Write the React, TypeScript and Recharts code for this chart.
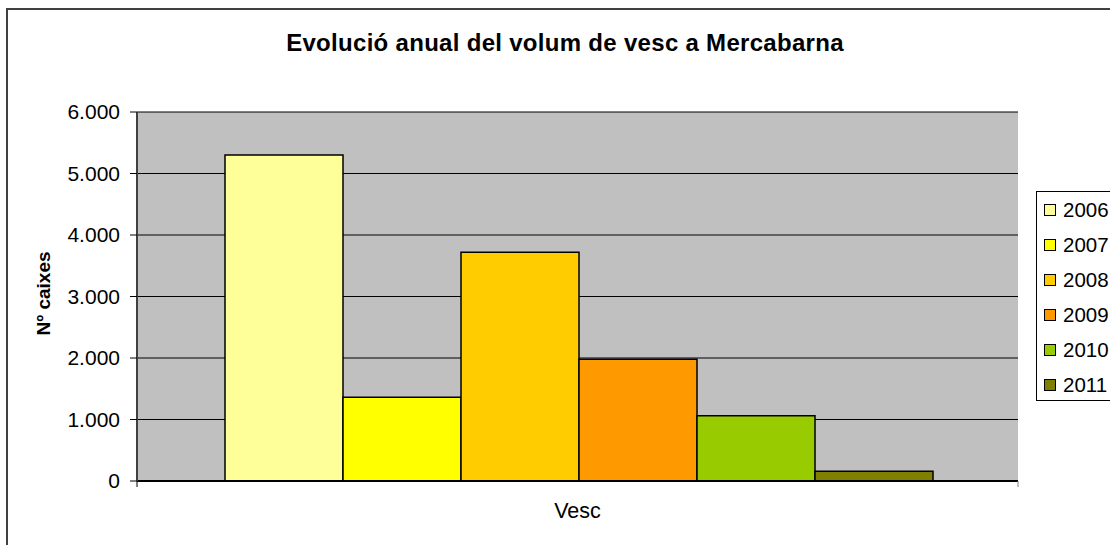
import React from 'react'
import { BarChart, Bar, XAxis, YAxis, CartesianGrid, Label } from 'recharts'

// ── Data ──────────────────────────────────────────────────────────────────────

const category = 'Vesc'
const years = ['2006', '2007', '2008', '2009', '2010', '2011']
const volumes = [5300, 1360, 3720, 1980, 1060, 160]
const yearColors = ['#FFFF99', '#FFFF00', '#FFCC00', '#FF9900', '#99CC00', '#808000']
const yTicks = [0, 1000, 2000, 3000, 4000, 5000, 6000]

const row: Record<string, string | number> = { name: category }
years.forEach((y, i) => { row[y] = volumes[i] })
const data = [row]

const FONT = '"Liberation Sans", Arial, sans-serif'

const fmt = (v: number) => String(v).replace(/\B(?=(\d{3})+(?!\d))/g, '.')

// ── Bits ──────────────────────────────────────────────────────────────────────

function CategoryTick(props: any) {
  const { x, y, width, payload } = props
  const half = width / 2
  return (
    <g>
      <line x1={x - half} y1={y} x2={x - half} y2={y + 6} stroke="#000" />
      <line x1={x + half} y1={y} x2={x + half} y2={y + 6} stroke="#808080" />
      <text x={x} y={y + 37} textAnchor="middle" fontSize={21.5} fontFamily={FONT} fill="#000">
        {payload.value}
      </text>
    </g>
  )
}

function YTitle(props: any) {
  const { viewBox } = props
  const cx = viewBox.x + 43
  const cy = viewBox.y + viewBox.height / 2 - 3
  return (
    <text x={cx} y={cy} transform={`rotate(-90 ${cx} ${cy})`} textAnchor="middle" dominantBaseline="central"
      fontSize={19} fontWeight={700} fontFamily={FONT} fill="#000">
      Nº caixes
    </text>
  )
}

export default function App() {
  return (
    <div style={{ position: 'absolute', left: 0, top: 0, width: 1110, height: 545, overflow: 'hidden', background: '#fff', fontFamily: FONT }}>
      <div style={{ position: 'absolute', left: 6, top: 8, width: 1200, height: 700, border: '2px solid #404040' }} />
      <div style={{ position: 'absolute', left: 165, top: 29, width: 800, textAlign: 'center', whiteSpace: 'nowrap', fontSize: 24, lineHeight: 'normal', letterSpacing: 0.3, fontWeight: 700, color: '#000' }}>
        Evolució anual del volum de vesc a Mercabarna
      </div>

      <div style={{ position: 'absolute', left: 0, top: 0 }}>
        <BarChart width={1110} height={545} data={data} margin={{ top: 112, right: 92, bottom: 0, left: 0 }}
          barCategoryGap={88} barGap={0}>
          <CartesianGrid vertical={false} fill="#C0C0C0" stroke="#000" strokeOpacity={1} />
          <XAxis dataKey="name" height={64} tickSize={0} tickMargin={0} tickLine={false}
            axisLine={{ stroke: '#000', strokeWidth: 2 }} tick={<CategoryTick />} />
          <YAxis domain={[0, 6000]} ticks={yTicks} width={137} tickSize={7} tickMargin={10}
            tickFormatter={fmt} tick={{ fontSize: 21, fill: '#000', fontFamily: FONT }}
            tickLine={{ stroke: '#000' }} axisLine={{ stroke: '#404040', strokeWidth: 2 }}>
            <Label content={<YTitle />} />
          </YAxis>
          <YAxis yAxisId="r" orientation="right" width={0} tick={false} tickLine={false}
            axisLine={{ stroke: '#808080', strokeWidth: 2 }} />
          {years.map((y, i) => (
            <Bar key={y} dataKey={y} fill={yearColors[i]} stroke="#000" strokeWidth={1.5} isAnimationActive={false} />
          ))}
        </BarChart>
      </div>

      <div style={{ position: 'absolute', left: 1036, top: 191, width: 120, height: 208, border: '1px solid #000', background: '#fff' }}>
        {years.map((y, i) => (
          <div key={y} style={{ position: 'absolute', left: 7, top: 8 + i * 35, height: 20, display: 'flex', alignItems: 'center', fontSize: 20.5, whiteSpace: 'nowrap' }}>
            <span style={{ display: 'inline-block', width: 10, height: 10, border: '1px solid #000', background: yearColors[i], marginRight: 7 }} />
            {y}
          </div>
        ))}
      </div>
    </div>
  )
}
